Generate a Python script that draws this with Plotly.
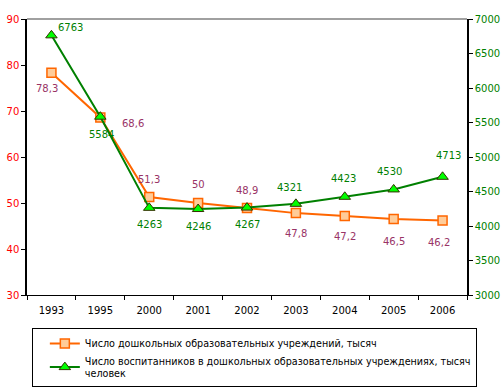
import plotly.graph_objects as go

years = ["1993", "1995", "2000", "2001", "2002", "2003", "2004", "2005", "2006"]
institutions = [78.3, 68.6, 51.3, 50.0, 48.9, 47.8, 47.2, 46.5, 46.2]
institutions_labels = ["78,3", "68,6", "51,3", "50", "48,9", "47,8", "47,2", "46,5", "46,2"]
pupils = [6763, 5584, 4263, 4246, 4267, 4321, 4423, 4530, 4713]
pupils_labels = ["6763", "5584", "4263", "4246", "4267", "4321", "4423", "4530", "4713"]

name1 = "Число дошкольных образовательных учреждений, тысяч"
name2 = "Число воспитанников в дошкольных образовательных учреждениях, тысяч<br>человек"

FONT = "DejaVu Sans"

# label offsets in pixels (style, not data)
inst_off = [(-4, 16), (33, 6), (0, -18), (0, -19), (0, -18), (0, 20), (0, 21), (0, 22), (-4, 22)]
pup_off = [(19, -8), (1, 18), (0, 17), (0, 17), (0, 17), (-6, -16), (-1, -18), (-4, -18), (6, -21)]

fig = go.Figure()
fig.add_trace(go.Scatter(
    x=years, y=institutions, name=name1, mode="lines+markers",
    line=dict(color="#FF6600", width=2),
    marker=dict(symbol="square", size=9, color="#FFCC99", line=dict(color="#FF6600", width=1.5)),
    cliponaxis=False,
))
fig.add_trace(go.Scatter(
    x=years, y=pupils, name=name2, mode="lines+markers", yaxis="y2",
    line=dict(color="#008000", width=2),
    marker=dict(symbol="triangle-up", size=10, color="#00FF00", line=dict(color="#333300", width=1)),
    cliponaxis=False,
))

annotations = []
for i, (yv, t, (dx, dy)) in enumerate(zip(institutions, institutions_labels, inst_off)):
    annotations.append(dict(x=i, y=yv, xref="x", yref="y", text=t, showarrow=False,
                            xshift=dx, yshift=-dy,
                            font=dict(color="#993366", size=10, family=FONT)))
for i, (yv, t, (dx, dy)) in enumerate(zip(pupils, pupils_labels, pup_off)):
    annotations.append(dict(x=i, y=yv, xref="x", yref="y2", text=t, showarrow=False,
                            xshift=dx, yshift=-dy,
                            font=dict(color="#008000", size=10, family=FONT)))

fig.update_layout(
    width=504, height=389,
    margin=dict(l=27, r=37, t=19, b=94, autoexpand=False),
    paper_bgcolor="white", plot_bgcolor="white",
    font=dict(family=FONT, size=10, color="black"),
    showlegend=True,
    xaxis=dict(type="category", range=[-0.5, len(years) - 0.5], showgrid=False, showline=True,
               linecolor="black", linewidth=1,
               ticks="outside", tickson="boundaries", ticklen=4, tickcolor="black",
               ticklabelstandoff=6,
               tickfont=dict(size=10, color="black"), zeroline=False, automargin=False),
    yaxis=dict(range=[30, 90], dtick=10, showgrid=False, showline=True, linecolor="black",
               linewidth=1.5, ticks="outside", ticklen=4, tickcolor="black",
               tickfont=dict(size=10, color="#FF0000"), zeroline=False, automargin=False),
    yaxis2=dict(range=[3000, 7000], dtick=500, overlaying="y", side="right", showgrid=False,
                showline=True, linecolor="black", linewidth=1.5, ticks="outside", ticklen=4,
                tickcolor="black", tickfont=dict(size=10, color="#008000"), zeroline=False,
                automargin=False),
    legend=dict(x=0.011, y=-0.12, xanchor="left", yanchor="top", bgcolor="white",
                bordercolor="black", borderwidth=1, font=dict(size=9.6, family=FONT),
                itemwidth=30, indentation=12),
    annotations=annotations,
    shapes=[dict(type="line", xref="paper", yref="paper", x0=0, x1=1, y0=1, y1=1,
                 line=dict(color="#808080", width=1.5))],
)

fig.write_html("out.html", config={"displayModeBar": False},
               post_script="document.body.style.margin='0';document.body.style.overflow='hidden';")
